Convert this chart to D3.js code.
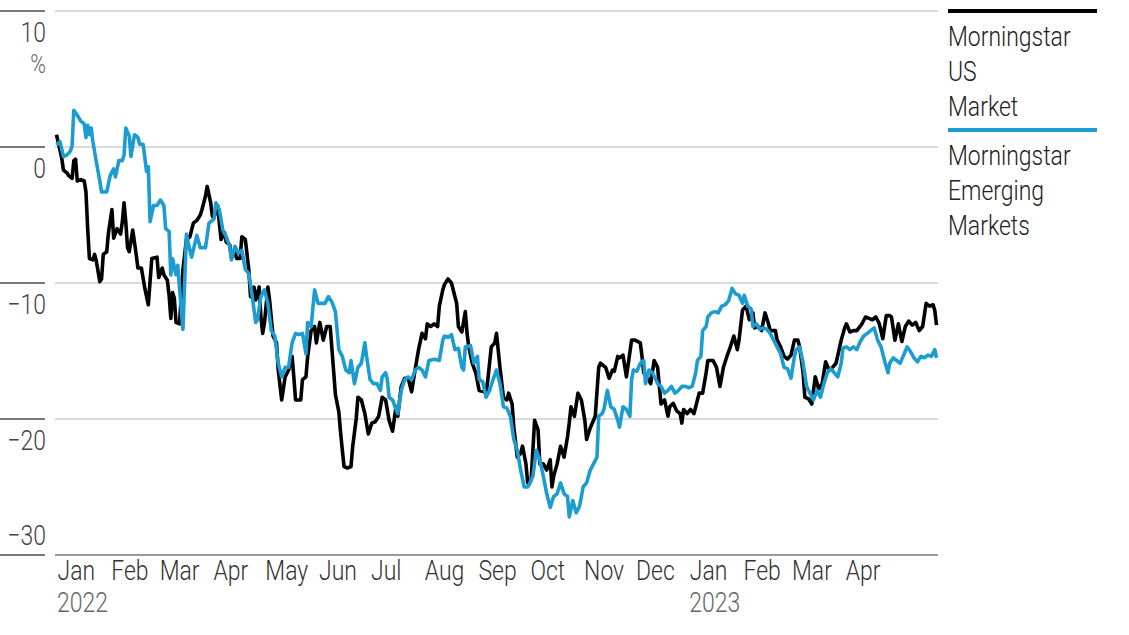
<!DOCTYPE html>
<html>
<head>
<meta charset="utf-8">
<script src="https://cdn.jsdelivr.net/npm/d3@7"></script>
<style>
  html, body { margin: 0; padding: 0; background: #fff; }
  svg { display: block; }
  text { font-family: 'Roboto', 'Liberation Sans', sans-serif; font-weight: 300; }
</style>
</head>
<body>
<svg id="chart" width="1129" height="635"></svg>
<script>
// ---- data ----
const seriesNames = ["Morningstar US Market", "Morningstar Emerging Markets"];
const legendLines = [["Morningstar", "US", "Market"], ["Morningstar", "Emerging", "Markets"]];
const yTicks = [10, 0, -10, -20, -30];
const monthTicks = ["2022-01-01","2022-02-01","2022-03-01","2022-04-01","2022-05-01","2022-06-01","2022-07-01","2022-08-01","2022-09-01","2022-10-01","2022-11-01","2022-12-01","2023-01-01","2023-02-01","2023-03-01","2023-04-01"];
const yearTicks = ["2022-01-01", "2023-01-01"];
const dateDomain = ["2022-01-01", "2023-05-24"];

const usMarket = [
["2022-01-01",0.9],["2022-01-04",-0.8],["2022-01-05",-1.7],["2022-01-07",-1.9],["2022-01-08",-2.1],["2022-01-10",-2.3],["2022-01-11",-1.0],["2022-01-12",-0.9],["2022-01-13",-2.5],["2022-01-15",-2.4],["2022-01-17",-2.5],["2022-01-18",-3.3],["2022-01-19",-6.0],["2022-01-20",-8.2],["2022-01-22",-8.3],["2022-01-23",-7.9],["2022-01-24",-8.4],["2022-01-26",-9.9],["2022-01-27",-9.7],["2022-01-28",-7.9],["2022-01-30",-7.7],["2022-01-31",-6.3],
["2022-02-02",-4.6],["2022-02-03",-6.7],["2022-02-05",-6.0],["2022-02-07",-6.4],["2022-02-08",-5.5],["2022-02-09",-4.1],["2022-02-10",-5.5],["2022-02-11",-7.4],["2022-02-12",-7.7],["2022-02-14",-6.1],["2022-02-16",-7.9],["2022-02-17",-8.9],["2022-02-19",-8.9],["2022-02-21",-10.4],["2022-02-23",-11.6],["2022-02-25",-8.2],["2022-02-28",-8.1],
["2022-03-01",-9.6],["2022-03-03",-8.9],["2022-03-04",-9.4],["2022-03-06",-9.8],["2022-03-07",-10.9],["2022-03-08",-12.6],["2022-03-09",-10.7],["2022-03-10",-11.1],["2022-03-11",-12.9],["2022-03-13",-13.0],["2022-03-15",-9.0],["2022-03-17",-6.8],["2022-03-19",-6.6],["2022-03-21",-5.6],["2022-03-23",-5.4],["2022-03-25",-5.0],["2022-03-26",-4.6],["2022-03-28",-3.6],["2022-03-29",-2.9],["2022-03-31",-4.1],
["2022-04-01",-5.1],["2022-04-03",-4.9],["2022-04-04",-4.3],["2022-04-05",-5.6],["2022-04-06",-6.8],["2022-04-08",-6.3],["2022-04-09",-7.0],["2022-04-11",-7.2],["2022-04-12",-8.1],["2022-04-14",-7.7],["2022-04-15",-8.2],["2022-04-17",-8.2],["2022-04-18",-6.6],["2022-04-20",-6.8],["2022-04-22",-9.0],["2022-04-23",-11.0],["2022-04-25",-10.3],["2022-04-26",-11.25],["2022-04-28",-10.3],["2022-04-29",-12.5],["2022-04-30",-13.7],
["2022-05-01",-13.0],["2022-05-03",-10.3],["2022-05-04",-11.25],["2022-05-06",-13.9],["2022-05-08",-14.4],["2022-05-09",-16.4],["2022-05-11",-18.6],["2022-05-13",-16.9],["2022-05-15",-16.4],["2022-05-17",-15.4],["2022-05-18",-16.9],["2022-05-19",-18.6],["2022-05-22",-18.6],["2022-05-23",-17.1],["2022-05-25",-16.9],["2022-05-26",-15.4],["2022-05-28",-13.5],["2022-05-30",-13.2],["2022-05-31",-14.4],
["2022-06-02",-12.9],["2022-06-04",-14.2],["2022-06-06",-13.2],["2022-06-08",-13.2],["2022-06-10",-16.5],["2022-06-11",-18.2],["2022-06-13",-19.5],["2022-06-14",-21.0],["2022-06-15",-22.3],["2022-06-16",-23.5],["2022-06-18",-23.6],["2022-06-20",-23.5],["2022-06-21",-22.0],["2022-06-23",-20.0],["2022-06-24",-18.4],["2022-06-26",-18.6],["2022-06-28",-19.6],["2022-06-30",-21.1],
["2022-07-02",-20.3],["2022-07-04",-20.2],["2022-07-06",-19.8],["2022-07-08",-18.4],["2022-07-10",-18.6],["2022-07-12",-20.1],["2022-07-14",-20.9],["2022-07-16",-19.1],["2022-07-17",-19.8],["2022-07-19",-17.6],["2022-07-21",-17.0],["2022-07-23",-17.0],["2022-07-25",-18.0],["2022-07-27",-16.4],["2022-07-29",-14.9],["2022-07-31",-13.7],
["2022-08-02",-14.1],["2022-08-03",-13.0],["2022-08-05",-13.2],["2022-08-07",-13.0],["2022-08-09",-13.2],["2022-08-10",-11.7],["2022-08-12",-10.5],["2022-08-13",-10.1],["2022-08-15",-9.7],["2022-08-17",-10.0],["2022-08-18",-10.5],["2022-08-20",-11.5],["2022-08-21",-13.2],["2022-08-23",-13.6],["2022-08-25",-12.1],["2022-08-26",-13.7],["2022-08-27",-14.7],["2022-08-29",-15.9],["2022-08-31",-16.6],
["2022-09-02",-17.9],["2022-09-05",-18.0],["2022-09-06",-18.1],["2022-09-07",-17.1],["2022-09-09",-14.7],["2022-09-11",-14.4],["2022-09-12",-13.7],["2022-09-14",-16.2],["2022-09-16",-18.4],["2022-09-18",-18.6],["2022-09-19",-18.1],["2022-09-21",-18.9],["2022-09-22",-20.6],["2022-09-24",-22.8],["2022-09-26",-22.5],["2022-09-27",-22.0],["2022-09-29",-23.3],["2022-09-30",-24.7],
["2022-10-02",-24.5],["2022-10-04",-20.1],["2022-10-06",-20.8],["2022-10-07",-23.3],["2022-10-09",-23.3],["2022-10-11",-23.75],["2022-10-13",-23.0],["2022-10-14",-25.0],["2022-10-15",-24.2],["2022-10-17",-23.3],["2022-10-19",-22.0],["2022-10-21",-22.8],["2022-10-23",-21.3],["2022-10-24",-20.3],["2022-10-25",-19.1],["2022-10-27",-19.8],["2022-10-29",-18.1],["2022-10-31",-18.6],
["2022-11-02",-20.1],["2022-11-03",-21.5],["2022-11-05",-20.7],["2022-11-08",-19.8],["2022-11-10",-16.2],["2022-11-11",-15.9],["2022-11-14",-16.2],["2022-11-16",-17.0],["2022-11-18",-16.4],["2022-11-19",-16.5],["2022-11-21",-15.4],["2022-11-22",-15.5],["2022-11-24",-15.3],["2022-11-26",-16.9],["2022-11-29",-14.2],
["2022-12-01",-14.2],["2022-12-04",-14.4],["2022-12-05",-15.4],["2022-12-06",-16.6],["2022-12-08",-16.9],["2022-12-10",-17.4],["2022-12-12",-15.7],["2022-12-14",-16.2],["2022-12-15",-17.6],["2022-12-16",-18.9],["2022-12-18",-18.6],["2022-12-20",-19.8],["2022-12-21",-19.1],["2022-12-23",-18.85],["2022-12-25",-19.4],["2022-12-27",-19.6],["2022-12-28",-20.3],["2022-12-29",-19.3],["2022-12-31",-19.6],
["2023-01-02",-19.3],["2023-01-04",-19.6],["2023-01-06",-18.6],["2023-01-07",-18.1],["2023-01-09",-18.1],["2023-01-11",-16.6],["2023-01-12",-15.7],["2023-01-15",-15.7],["2023-01-17",-16.2],["2023-01-19",-17.6],["2023-01-21",-16.2],["2023-01-23",-15.4],["2023-01-25",-14.7],["2023-01-27",-13.9],["2023-01-29",-14.9],["2023-01-30",-14.2],
["2023-02-01",-12.0],["2023-02-03",-11.7],["2023-02-05",-12.7],["2023-02-07",-12.2],["2023-02-08",-13.3],["2023-02-10",-13.2],["2023-02-12",-13.5],["2023-02-14",-12.2],["2023-02-16",-13.0],["2023-02-17",-13.5],["2023-02-20",-13.5],["2023-02-21",-14.2],["2023-02-23",-14.7],["2023-02-25",-15.4],["2023-02-27",-15.6],
["2023-03-01",-15.3],["2023-03-03",-14.2],["2023-03-05",-14.2],["2023-03-06",-14.7],["2023-03-08",-16.6],["2023-03-09",-18.4],["2023-03-11",-18.5],["2023-03-13",-18.9],["2023-03-15",-16.9],["2023-03-17",-17.8],["2023-03-19",-17.4],["2023-03-21",-15.8],["2023-03-23",-16.4],["2023-03-25",-16.2],["2023-03-27",-15.9],["2023-03-30",-14.2],
["2023-04-01",-13.3],["2023-04-02",-13.0],["2023-04-04",-13.6],["2023-04-06",-13.5],["2023-04-08",-13.5],["2023-04-11",-13.0],["2023-04-13",-12.5],["2023-04-15",-12.6],["2023-04-17",-12.7],["2023-04-19",-12.5],["2023-04-21",-13.0],["2023-04-23",-14.1],["2023-04-25",-12.4],["2023-04-27",-12.4],["2023-04-28",-12.5],["2023-04-30",-14.2],
["2023-05-02",-13.0],["2023-05-04",-14.3],["2023-05-06",-13.2],["2023-05-08",-12.8],["2023-05-10",-13.1],["2023-05-12",-12.9],["2023-05-14",-13.5],["2023-05-16",-13.2],["2023-05-18",-11.5],["2023-05-20",-11.7],["2023-05-22",-11.6],["2023-05-23",-12.0],["2023-05-24",-13.1]
];

const emergingMarkets = [
["2022-01-01",0.15],["2022-01-03",0.4],["2022-01-05",-0.7],["2022-01-07",-0.6],["2022-01-09",-0.3],["2022-01-10",0.1],["2022-01-11",2.7],["2022-01-13",2.35],["2022-01-15",1.9],["2022-01-17",1.7],["2022-01-18",0.7],["2022-01-19",1.6],["2022-01-20",0.9],["2022-01-21",1.4],["2022-01-22",0.4],["2022-01-24",-1.1],["2022-01-26",-2.5],["2022-01-27",-3.3],["2022-01-30",-3.3],
["2022-02-01",-2.1],["2022-02-03",-1.6],["2022-02-04",-2.2],["2022-02-06",-1.0],["2022-02-08",-1.0],["2022-02-09",-0.6],["2022-02-10",1.4],["2022-02-12",0.8],["2022-02-13",-0.7],["2022-02-15",0.9],["2022-02-17",0.7],["2022-02-18",0.2],["2022-02-20",0.2],["2022-02-22",-1.8],["2022-02-23",-1.45],["2022-02-24",-5.5],["2022-02-26",-4.3],["2022-02-28",-4.3],
["2022-03-02",-3.9],["2022-03-04",-4.3],["2022-03-05",-6.0],["2022-03-07",-6.2],["2022-03-08",-9.4],["2022-03-09",-8.2],["2022-03-11",-9.4],["2022-03-12",-8.7],["2022-03-14",-11.9],["2022-03-15",-13.4],["2022-03-17",-6.4],["2022-03-19",-7.6],["2022-03-20",-8.1],["2022-03-23",-6.5],["2022-03-25",-7.4],["2022-03-28",-7.4],["2022-03-30",-5.6],
["2022-04-01",-5.4],["2022-04-02",-5.25],["2022-04-03",-4.1],["2022-04-05",-4.6],["2022-04-07",-6.1],["2022-04-09",-6.6],["2022-04-11",-7.3],["2022-04-12",-8.3],["2022-04-14",-7.3],["2022-04-16",-7.8],["2022-04-18",-7.6],["2022-04-20",-9.0],["2022-04-22",-9.3],["2022-04-24",-11.0],["2022-04-26",-12.9],["2022-04-27",-12.7],["2022-04-29",-11.0],
["2022-05-01",-10.5],["2022-05-03",-11.5],["2022-05-05",-13.5],["2022-05-07",-13.9],["2022-05-09",-15.9],["2022-05-11",-16.9],["2022-05-13",-16.2],["2022-05-15",-16.2],["2022-05-17",-14.4],["2022-05-19",-13.7],["2022-05-21",-13.8],["2022-05-23",-13.7],["2022-05-25",-15.2],["2022-05-26",-12.9],["2022-05-28",-13.2],["2022-05-30",-10.5],
["2022-06-01",-11.5],["2022-06-03",-11.5],["2022-06-05",-11.5],["2022-06-07",-11.0],["2022-06-09",-11.4],["2022-06-11",-12.1],["2022-06-13",-14.9],["2022-06-15",-15.4],["2022-06-17",-16.4],["2022-06-19",-16.6],["2022-06-20",-15.7],["2022-06-22",-17.4],["2022-06-24",-16.2],["2022-06-26",-15.9],["2022-06-28",-14.4],["2022-06-29",-15.4],
["2022-07-01",-17.1],["2022-07-03",-17.4],["2022-07-05",-17.4],["2022-07-07",-17.9],["2022-07-08",-16.9],["2022-07-10",-16.6],["2022-07-11",-17.1],["2022-07-12",-18.4],["2022-07-14",-18.6],["2022-07-16",-19.3],["2022-07-17",-19.6],["2022-07-19",-17.9],["2022-07-21",-17.1],["2022-07-23",-16.9],["2022-07-25",-17.1],["2022-07-27",-16.4],["2022-07-29",-16.2],["2022-07-31",-16.4],
["2022-08-02",-16.9],["2022-08-04",-15.7],["2022-08-07",-15.6],["2022-08-10",-15.7],["2022-08-12",-14.2],["2022-08-13",-13.9],["2022-08-15",-14.0],["2022-08-17",-13.8],["2022-08-19",-14.9],["2022-08-21",-14.8],["2022-08-23",-16.2],["2022-08-24",-16.4],["2022-08-25",-14.7],["2022-08-28",-14.6],["2022-08-30",-15.9],
["2022-09-01",-15.4],["2022-09-02",-17.1],["2022-09-04",-17.25],["2022-09-06",-18.4],["2022-09-08",-17.9],["2022-09-10",-17.1],["2022-09-12",-16.4],["2022-09-14",-17.4],["2022-09-16",-19.1],["2022-09-18",-19.2],["2022-09-20",-19.8],["2022-09-22",-21.5],["2022-09-24",-22.3],["2022-09-26",-23.8],["2022-09-28",-25.0],["2022-09-30",-25.0],
["2022-10-01",-24.8],["2022-10-03",-24.2],["2022-10-05",-22.3],["2022-10-07",-23.0],["2022-10-09",-24.2],["2022-10-11",-25.5],["2022-10-13",-26.5],["2022-10-15",-25.7],["2022-10-17",-25.5],["2022-10-19",-24.7],["2022-10-21",-25.5],["2022-10-23",-25.7],["2022-10-24",-27.2],["2022-10-26",-26.0],["2022-10-28",-26.9],["2022-10-30",-26.4],
["2022-11-01",-25.0],["2022-11-03",-24.7],["2022-11-05",-23.8],["2022-11-07",-23.3],["2022-11-09",-22.8],["2022-11-10",-19.8],["2022-11-12",-19.6],["2022-11-13",-19.3],["2022-11-15",-17.9],["2022-11-17",-19.1],["2022-11-19",-19.3],["2022-11-21",-20.1],["2022-11-22",-20.6],["2022-11-24",-19.1],["2022-11-26",-19.3],["2022-11-28",-19.8],["2022-11-29",-17.1],["2022-11-30",-16.4],
["2022-12-02",-16.5],["2022-12-04",-15.9],["2022-12-06",-15.7],["2022-12-07",-17.4],["2022-12-09",-16.4],["2022-12-11",-16.6],["2022-12-13",-17.1],["2022-12-14",-17.4],["2022-12-16",-17.6],["2022-12-18",-18.1],["2022-12-20",-17.9],["2022-12-22",-17.6],["2022-12-24",-18.1],["2022-12-26",-17.9],["2022-12-28",-17.6],["2022-12-30",-17.6],
["2023-01-01",-17.7],["2023-01-03",-17.6],["2023-01-05",-16.6],["2023-01-06",-15.7],["2023-01-08",-15.4],["2023-01-09",-13.5],["2023-01-11",-13.2],["2023-01-12",-12.5],["2023-01-14",-12.2],["2023-01-16",-12.1],["2023-01-18",-12.2],["2023-01-20",-11.7],["2023-01-22",-11.6],["2023-01-24",-11.3],["2023-01-26",-10.4],["2023-01-28",-10.8],["2023-01-30",-10.9],
["2023-02-01",-11.5],["2023-02-02",-10.9],["2023-02-04",-11.7],["2023-02-06",-11.9],["2023-02-07",-13.2],["2023-02-09",-13.0],["2023-02-11",-13.4],["2023-02-13",-13.3],["2023-02-15",-13.4],["2023-02-17",-13.7],["2023-02-19",-14.2],["2023-02-21",-14.7],["2023-02-23",-15.2],["2023-02-25",-16.2],["2023-02-27",-16.3],
["2023-03-01",-17.0],["2023-03-03",-15.4],["2023-03-04",-14.9],["2023-03-06",-14.7],["2023-03-08",-15.9],["2023-03-10",-17.6],["2023-03-12",-18.1],["2023-03-14",-18.6],["2023-03-16",-17.9],["2023-03-18",-18.4],["2023-03-20",-17.4],["2023-03-22",-16.6],["2023-03-24",-16.3],["2023-03-26",-16.6],["2023-03-28",-16.9],["2023-03-30",-15.9],["2023-03-31",-14.8],
["2023-04-02",-14.7],["2023-04-04",-14.9],["2023-04-06",-14.7],["2023-04-08",-14.9],["2023-04-10",-14.3],["2023-04-12",-13.9],["2023-04-14",-13.7],["2023-04-16",-13.5],["2023-04-18",-13.3],["2023-04-20",-14.2],["2023-04-22",-14.7],["2023-04-24",-15.7],["2023-04-26",-16.6],["2023-04-27",-15.9],["2023-04-29",-15.5],
["2023-05-01",-15.7],["2023-05-03",-15.9],["2023-05-05",-15.3],["2023-05-07",-14.7],["2023-05-09",-15.05],["2023-05-11",-15.5],["2023-05-13",-15.8],["2023-05-15",-15.4],["2023-05-17",-15.5],["2023-05-19",-15.3],["2023-05-21",-15.4],["2023-05-23",-14.9],["2023-05-24",-15.5]
];

const seriesColors = ["#000000", "#1c9cd0"];

// ---- drawing ----
const parse = d3.utcParse("%Y-%m-%d");
const svg = d3.select("#chart");
const SQUEEZE = 0.82;   // horizontal condensing to mimic a condensed typeface

const x = d3.scaleUtc().domain(dateDomain.map(parse)).range([56.5, 936.5]);
const y = d3.scaleLinear().domain([-30, 10]).range([555, 11]);

const fmtTick = v => (v < 0 ? "\u2212" + Math.abs(v) : String(v));

function ctext(g, tx, ty, str, opts) {
  const t = g.append("text")
    .attr("transform", `translate(${tx},${ty}) scale(${SQUEEZE},1)`)
    .attr("font-size", opts.size || 28)
    .attr("fill", opts.fill || "#333")
    .attr("text-anchor", opts.anchor || "start")
    .text(str);
  return t;
}

// grid lines and left tick segments
const yg = svg.append("g");
yTicks.forEach(t => {
  const isBase = t === d3.min(yTicks);
  yg.append("line")
    .attr("x1", 55).attr("x2", 938)
    .attr("y1", y(t)).attr("y2", y(t))
    .attr("stroke", isBase ? "#9a9a9a" : "#cfcfcf")
    .attr("stroke-width", isBase ? 2 : 1.5);
  yg.append("line")
    .attr("x1", 0).attr("x2", 45)
    .attr("y1", y(t)).attr("y2", y(t))
    .attr("stroke", "#777")
    .attr("stroke-width", 2);
  ctext(yg, 46, isBase ? y(t) - 10 : y(t) + 31, fmtTick(t), {anchor: "end", fill: "#444"});
});
ctext(yg, 46, y(10) + 62, "%", {anchor: "end", fill: "#666", size: 26});

// x axis labels
const xAxis = d3.axisBottom(x)
  .tickValues(monthTicks.map(parse))
  .tickFormat(d3.utcFormat("%b"))
  .tickSize(0)
  .tickPadding(0);
const xg = svg.append("g").attr("transform", "translate(0,555)").call(xAxis);
xg.select(".domain").remove();
xg.selectAll("text")
  .attr("text-anchor", "start")
  .attr("dy", 0)
  .attr("y", 25)
  .attr("x", 0)
  .attr("transform", `translate(0.5,0) scale(${SQUEEZE},1)`)
  .attr("font-size", 28)
  .attr("font-family", "Roboto, 'Liberation Sans', sans-serif")
  .attr("font-weight", 300)
  .attr("fill", "#333");

const yrg = svg.append("g");
yearTicks.forEach(d => ctext(yrg, x(parse(d)) + 0.5, 612, d.slice(0, 4), {fill: "#666"}));

// lines
const line = d3.line()
  .x(d => x(parse(d[0])))
  .y(d => y(d[1]));

[usMarket, emergingMarkets].forEach((s, i) => {
  svg.append("path")
    .datum(s)
    .attr("fill", "none")
    .attr("stroke", seriesColors[i])
    .attr("stroke-width", 3.6)
    .attr("stroke-linejoin", "round")
    .attr("d", line);
});

// legend
const lg = svg.append("g");
legendLines.forEach((lines, i) => {
  const top = 11 + i * 119;
  lg.append("line")
    .attr("x1", 948).attr("x2", 1097)
    .attr("y1", top).attr("y2", top)
    .attr("stroke", seriesColors[i])
    .attr("stroke-width", 4);
  lines.forEach((t, j) => ctext(lg, 948, top + 35 + j * 35, t, {fill: "#222"}));
});
</script>
</body>
</html>
